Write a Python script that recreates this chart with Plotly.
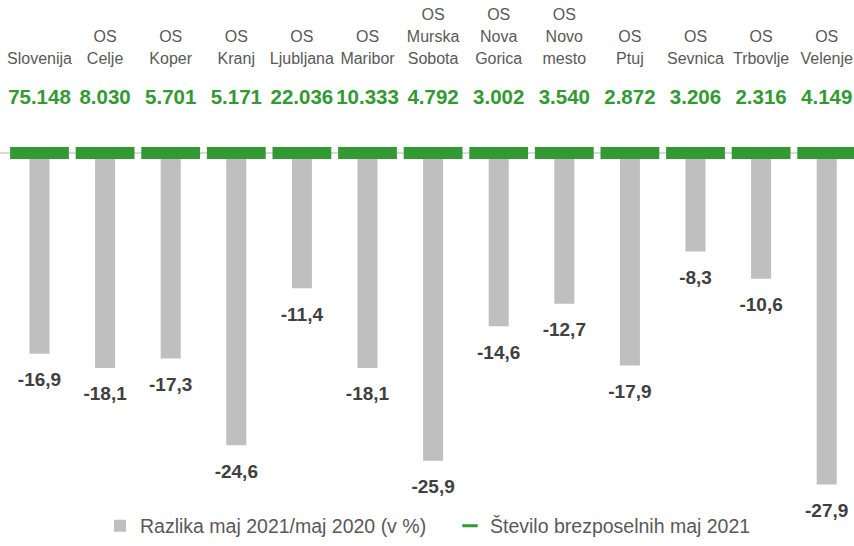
import plotly.graph_objects as go

regions = ["Slovenija", "OS Celje", "OS Koper", "OS Kranj", "OS Ljubljana", "OS Maribor",
           "OS Murska Sobota", "OS Nova Gorica", "OS Novo mesto", "OS Ptuj", "OS Sevnica",
           "OS Trbovlje", "OS Velenje"]
region_labels = ["Slovenija", "OS<br>Celje", "OS<br>Koper", "OS<br>Kranj", "OS<br>Ljubljana",
                 "OS<br>Maribor", "OS<br>Murska<br>Sobota", "OS<br>Nova<br>Gorica",
                 "OS<br>Novo<br>mesto", "OS<br>Ptuj", "OS<br>Sevnica", "OS<br>Trbovlje",
                 "OS<br>Velenje"]
unemployed_may2021 = [75148, 8030, 5701, 5171, 22036, 10333, 4792, 3002, 3540, 2872, 3206, 2316, 4149]
change_pct = [-16.9, -18.1, -17.3, -24.6, -11.4, -18.1, -25.9, -14.6, -12.7, -17.9, -8.3, -10.6, -27.9]

FONT = "Liberation Sans, Arial, sans-serif"
GREEN = "#339933"
GRAY = "#bfbfbf"

unemp_text = [f"{v:,}".replace(",", ".") for v in unemployed_may2021]
change_text = [f"{v:.1f}".replace(".", ",") for v in change_pct]

# label rows (counted from the bottom line of each label)
rows = [lab.split("<br>")[::-1] for lab in region_labels]
n_rows = max(len(r) for r in rows)
row_texts = [[r[k] if k < len(r) else "" for r in rows] for k in range(n_rows)]

ROW_Y = [7.85, 9.69, 11.53]
NUMBER_Y = 4.55
OFFSET = 2.33

fig = go.Figure()
fig.add_trace(go.Bar(
    x=regions, y=change_pct, width=0.305, marker=dict(color=GRAY, line=dict(width=0)),
    name="Razlika maj 2021/maj 2020 (v %)", hoverinfo="skip"))
fig.add_trace(go.Scatter(
    x=regions, y=[0] * len(regions), mode="markers",
    marker=dict(symbol="line-ew", size=42, color=GREEN, line=dict(color=GREEN, width=12)),
    name="Število brezposelnih maj 2021", legendgroup="unemp", showlegend=False,
    hoverinfo="skip"))
# legend entry for the green series (smaller dash, as in the original legend)
fig.add_trace(go.Scatter(
    x=[None], y=[None], mode="markers",
    marker=dict(symbol="line-ew", size=11, color=GREEN, line=dict(color=GREEN, width=3)),
    name="Število brezposelnih maj 2021", legendgroup="unemp", showlegend=True))
fig.add_trace(go.Scatter(
    x=regions, y=[v - OFFSET for v in change_pct], mode="text", text=change_text,
    textposition="middle center", cliponaxis=False, hoverinfo="skip",
    textfont=dict(family=FONT, size=19, color="#404040", weight="bold"), showlegend=False))
fig.add_trace(go.Scatter(
    x=regions, y=[NUMBER_Y] * len(regions), mode="text", text=unemp_text,
    textposition="middle center", cliponaxis=False, hoverinfo="skip",
    textfont=dict(family=FONT, size=20.5, color=GREEN, weight="bold"), showlegend=False))
for k in range(n_rows):
    fig.add_trace(go.Scatter(
        x=regions, y=[ROW_Y[k]] * len(regions), mode="text", text=row_texts[k],
        textposition="middle center", cliponaxis=False, hoverinfo="skip",
        textfont=dict(family=FONT, size=16, color="#595959"), showlegend=False))

fig.update_layout(
    width=854, height=546, margin=dict(l=0, r=0, t=0, b=0),
    paper_bgcolor="white", plot_bgcolor="white",
    font=dict(family=FONT, size=18, color="#595959"),
    xaxis=dict(range=[-0.602, 12.416], showticklabels=False, showgrid=False, zeroline=False,
               ticks=""),
    yaxis=dict(range=[-32.748, 12.866], showticklabels=False, showgrid=False, zeroline=True,
               zerolinecolor="#d9d9d9", zerolinewidth=2, ticks=""),
    legend=dict(orientation="h", x=100 / 854, xanchor="left", y=0.0293, yanchor="middle",
                entrywidth=305, entrywidthmode="pixels",
                font=dict(family=FONT, size=19.5, color="#595959"), bgcolor="rgba(0,0,0,0)"),
    showlegend=True,
)

fig.write_html("out.html", config={"displayModeBar": False},
               post_script="document.body.style.margin='0px';")
